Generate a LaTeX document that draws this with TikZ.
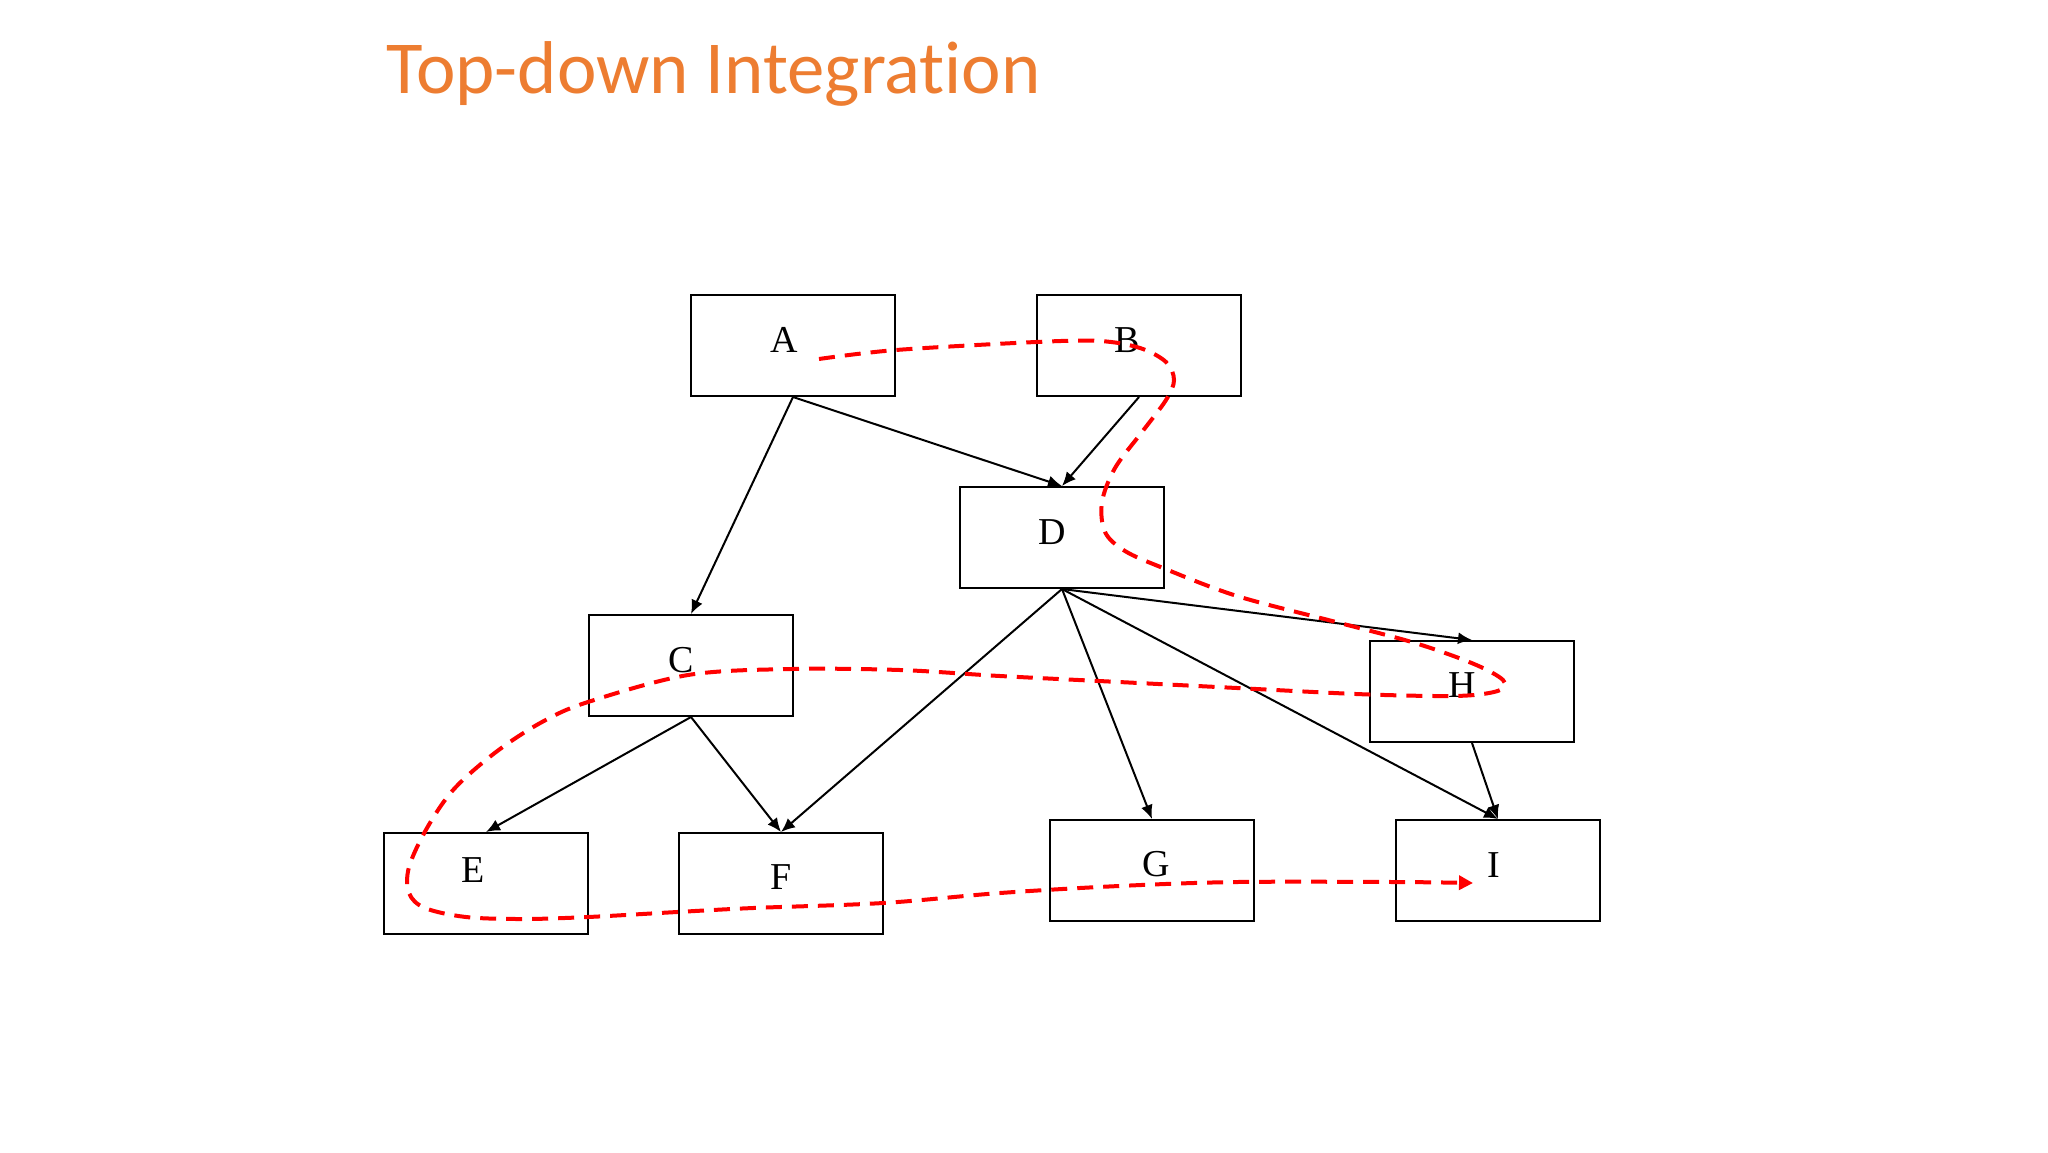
\documentclass[tikz,border=0pt]{standalone}
\usepackage{fontspec}
\setmainfont{Liberation Serif}
\newfontfamily\titlefont[Ligatures={NoCommon}]{Carlito}
\usetikzlibrary{arrows.meta}
\definecolor{titleorange}{HTML}{ED7D31}
\definecolor{pathred}{HTML}{FF0000}
\begin{document}
\begin{tikzpicture}[x=0.5pt,y=-0.5pt,
  box/.style={draw=black, line width=1pt, minimum width=102pt, minimum height=50.5pt, inner sep=0pt},
  lbl/.style={font=\fontsize{19}{23}\selectfont, inner sep=0pt},
  arr/.style={-{Latex[length=7pt,width=6pt]}, line width=1pt},
  flow/.style={draw=pathred, line width=2pt, dash pattern=on 8pt off 5pt, -{Triangle[length=7pt,width=7pt]}}]
\fill[white] (0,0) rectangle (2048,1152);
\path[use as bounding box] (0,0) rectangle (2048,1152);
\node[anchor=base west, text=titleorange, font=\titlefont\fontsize{37.4}{45}\selectfont, inner sep=0pt] (title) at (386,93) {Top-down Integration};
% boxes
\node[box] (A) at (793,345.5) {};
\node[box] (B) at (1139,345.5) {};
\node[box] (D) at (1062,537.5) {};
\node[box] (C) at (691,665.5) {};
\node[box] (H) at (1472,691.5) {};
\node[box] (E) at (486,883.5) {};
\node[box] (F) at (781,883.5) {};
\node[box] (G) at (1152,870.5) {};
\node[box] (I) at (1498,870.5) {};
% labels
\node[lbl] (lA) at (784,340) {A};
\node[lbl] (lB) at (1127,340) {B};
\node[lbl] (lD) at (1052,532) {D};
\node[lbl] (lC) at (681,660) {C};
\node[lbl] (lE) at (473,870) {E};
\node[lbl] (lF) at (781,877) {F};
\node[lbl] (lG) at (1156,864) {G};
\node[lbl] (lH) at (1462,685) {H};
\node[lbl] (lI) at (1494,865) {I};
% arrows
\draw[arr] (A.south) -- (C.north);
\draw[arr] (A.south) -- (D.north);
\draw[arr] (B.south) -- (D.north);
\draw[arr] (D.south) -- (F.north);
\draw[arr] (D.south) -- (G.north);
\draw[arr] (D.south) -- (I.north);
\draw[arr] (D.south) -- (H.north);
\draw[arr] (H.south) -- (I.north);
\draw[arr] (C.south) -- (E.north);
\draw[arr] (C.south) -- (F.north);
% integration order path
\coordinate (s) at (819,359);
\coordinate (t) at (1473,883);
\draw[flow] plot[smooth, tension=0.55] coordinates {
 (s) (896,350) (1036,342) (1100,341) (1140,348) (1166,362) (1174,380) (1166,400)
 (1142,432) (1115,468) (1102,502) (1105,532) (1125,551) (1163,568) (1237,596)
 (1336,622) (1415,643) (1474,664) (1503,680) (1500,690) (1474,695) (1435,696)
 (1356,694) (1237,688) (1119,682) (1000,676) (900,670) (791,669) (688,675)
 (588,702) (542,722) (496,752) (454,789) (427,828) (409,867) (409,893) (425,908)
 (466,917) (523,919) (588,917) (677,912) (753,908) (883,903) (1000,893) (1119,886)
 (1237,882) (1395,882) (t)};
\end{tikzpicture}
\end{document}
